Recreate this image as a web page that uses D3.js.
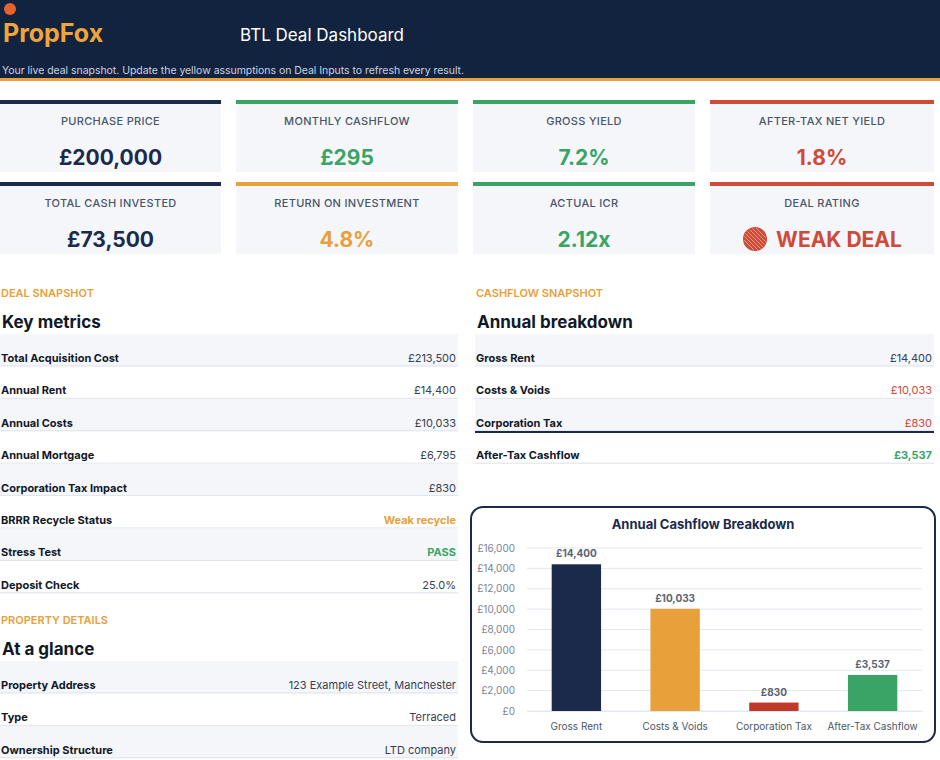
<!DOCTYPE html>
<html><head><meta charset="utf-8">
<script src="https://cdn.jsdelivr.net/npm/d3@7"></script>
<style>body{margin:0;background:#fff}svg{display:block;font-family:Inter,"Open Sans",sans-serif}</style>
</head><body><svg id="c" width="940" height="760"></svg>
<script>
// KPI cards
var kpiLabels = ["PURCHASE PRICE","MONTHLY CASHFLOW","GROSS YIELD","AFTER-TAX NET YIELD","TOTAL CASH INVESTED","RETURN ON INVESTMENT","ACTUAL ICR","DEAL RATING"];
var kpiValues = ["£200,000","£295","7.2%","1.8%","£73,500","4.8%","2.12x","WEAK DEAL"];
var kpiTones = ["navy","green","green","red","navy","orange","green","red"];
// tables
var keyLabels = ["Total Acquisition Cost","Annual Rent","Annual Costs","Annual Mortgage","Corporation Tax Impact","BRRR Recycle Status","Stress Test","Deposit Check"];
var keyValues = ["£213,500","£14,400","£10,033","£6,795","£830","Weak recycle","PASS","25.0%"];
var keyTones = ["", "", "", "", "", "orange","green",""];
var cfLabels = ["Gross Rent","Costs & Voids","Corporation Tax","After-Tax Cashflow"];
var cfValues = ["£14,400","£10,033","£830","£3,537"];
var cfTones = ["","red","red","green"];
var propLabels = ["Property Address","Type","Ownership Structure"];
var propValues = ["123 Example Street, Manchester","Terraced","LTD company"];
// chart
var chartCats = ["Gross Rent","Costs & Voids","Corporation Tax","After-Tax Cashflow"];
var chartVals = [14400,10033,830,3537];
var chartTicks = [0,2000,4000,6000,8000,10000,12000,14000,16000];

var col = {navy:"#1b2a4a",green:"#3aa466",red:"#cf4a37",orange:"#e8a03b","":"#1b2a4a"};
var svg = d3.select("#c");

// header
svg.append("rect").attr("width",940).attr("height",79).attr("fill","#12233f");
svg.append("rect").attr("y",78).attr("width",940).attr("height",3).attr("fill","#e8a03b");
svg.append("circle").attr("cx",10).attr("cy",9).attr("r",6).attr("fill","#e8622b");
svg.append("text").attr("x",3).attr("y",42).attr("fill","#f0a53a").attr("font-size",25).attr("font-weight",700).text("PropFox");
svg.append("text").attr("x",240).attr("y",41).attr("fill","#fff").attr("font-size",17).text("BTL Deal Dashboard");
svg.append("text").attr("x",2).attr("y",74).attr("fill","#c9d2e0").attr("font-size",10.5).attr("textLength",462).text("Your live deal snapshot. Update the yellow assumptions on Deal Inputs to refresh every result.");

// KPI cards
var cx = [0,236,473,710], cw = [221,222,222,224], cy = [100,182];
kpiLabels.forEach(function(l,i){
  var x = cx[i%4], y = cy[Math.floor(i/4)], w = cw[i%4];
  svg.append("rect").attr("x",x).attr("y",y).attr("width",w).attr("height",72).attr("fill","#f4f6fa");
  svg.append("rect").attr("x",x).attr("y",y).attr("width",w).attr("height",4).attr("fill",col[kpiTones[i]]);
  svg.append("text").attr("x",x+w/2).attr("y",y+25).attr("text-anchor","middle").attr("fill","#4a5568").attr("font-size",11).attr("font-weight",500).attr("letter-spacing",0.3).text(l);
  var t = svg.append("text").attr("x",x+w/2).attr("y",y+65).attr("text-anchor","middle").attr("fill",col[kpiTones[i]]).attr("font-size",21).attr("font-weight",700).text(kpiValues[i]);
  if (i==7) {
    t.attr("x",x+w/2+17);
    var ic = x+w/2-67;
    svg.append("clipPath").attr("id","ic").append("circle").attr("cx",ic).attr("cy",y+57).attr("r",11);
    svg.append("circle").attr("cx",ic).attr("cy",y+57).attr("r",12).attr("fill","#cf4a37");
    for (var k=-3;k<=3;k++) svg.append("line").attr("x1",ic-12+k*4).attr("y1",y+45).attr("x2",ic+k*4+12).attr("y2",y+69)
      .attr("stroke","#f0b0a0").attr("stroke-width",0.8).attr("clip-path","url(#ic)");
  }
});

function table(x, w, y0, title, sub, labels, values, tones) {
  svg.append("text").attr("x",x+1).attr("y",y0).attr("fill","#e8a03b").attr("font-size",11).attr("font-weight",600).text(title);
  svg.append("text").attr("x",x+2).attr("y",y0+31).attr("fill","#111827").attr("font-size",17).attr("font-weight",700).text(sub);
  labels.forEach(function(l,i){
    var ry = y0+37+i*32.4;
    if (i%2==0) svg.append("rect").attr("x",x).attr("y",ry).attr("width",w).attr("height",32).attr("fill","#f4f6fa");
    svg.append("line").attr("x1",x).attr("x2",x+w).attr("y1",ry+32).attr("y2",ry+32).attr("stroke","#dde2ea");
    svg.append("text").attr("x",x+1).attr("y",ry+28).attr("fill","#111827").attr("font-size",11).attr("font-weight",700).text(l);
    svg.append("text").attr("x",x+w-2).attr("y",ry+28).attr("text-anchor","end").attr("fill",tones[i]?col[tones[i]]:"#374151")
      .attr("font-size",11).attr("font-weight",tones[i]=="green"||tones[i]=="orange"?700:400).text(values[i]);
  });
}
table(0,458,297,"DEAL SNAPSHOT","Key metrics",keyLabels,keyValues,keyTones);
table(475,459,297,"CASHFLOW SNAPSHOT","Annual breakdown",cfLabels,cfValues,cfTones);
svg.append("rect").attr("x",475).attr("y",431).attr("width",459).attr("height",2).attr("fill","#1b2a4a");
table(0,458,624,"PROPERTY DETAILS","At a glance",propLabels,propValues,["","",""]);

// chart
svg.append("rect").attr("x",471).attr("y",507).attr("width",464).attr("height",235).attr("rx",12)
  .attr("fill","#fff").attr("stroke","#1b2a4a").attr("stroke-width",2);
svg.append("text").attr("x",703).attr("y",529).attr("text-anchor","middle").attr("fill","#1b2a4a").attr("font-size",13).attr("font-weight",700).text("Annual Cashflow Breakdown");
var x = d3.scaleBand().domain(chartCats).range([527,922]).paddingInner(0.5).paddingOuter(0.25);
var y = d3.scaleLinear().domain([0,16000]).range([711,548]);
var g = svg.append("g");
g.selectAll(".gl").data(chartTicks).enter().append("line").attr("x1",527).attr("x2",922)
  .attr("y1",function(d){return y(d);}).attr("y2",function(d){return y(d);}).attr("stroke","#e3e7ef");
var fmt = function(d){return "£"+d3.format(",")(d);};
g.append("g").attr("transform","translate(518,0)").call(d3.axisLeft(y).tickValues(chartTicks).tickFormat(fmt).tickSize(0))
  .call(function(a){a.select(".domain").remove();a.selectAll("text").attr("fill","#7b8494").attr("font-size",10).attr("font-family","Inter,sans-serif");});
g.append("g").attr("transform","translate(0,711)").call(d3.axisBottom(x).tickSize(0).tickPadding(12))
  .call(function(a){a.select(".domain").attr("stroke","#e3e7ef");a.selectAll("text").attr("fill","#4a5568").attr("font-size",10).attr("font-family","Inter,sans-serif");});
var barCols = ["#1b2a4a","#e8a03b","#c0392b","#3aa466"];
g.selectAll(".b").data(chartVals).enter().append("rect")
  .attr("x",function(d,i){return x(chartCats[i]);}).attr("width",x.bandwidth())
  .attr("y",function(d){return y(d);}).attr("height",function(d){return 711-y(d);})
  .attr("fill",function(d,i){return barCols[i];});
g.selectAll(".l").data(chartVals).enter().append("text")
  .attr("x",function(d,i){return x(chartCats[i])+x.bandwidth()/2;}).attr("y",function(d){return y(d)-7;})
  .attr("text-anchor","middle").attr("fill","#5a6272").attr("font-size",10).attr("font-weight",700).text(fmt);
</script></body></html>
